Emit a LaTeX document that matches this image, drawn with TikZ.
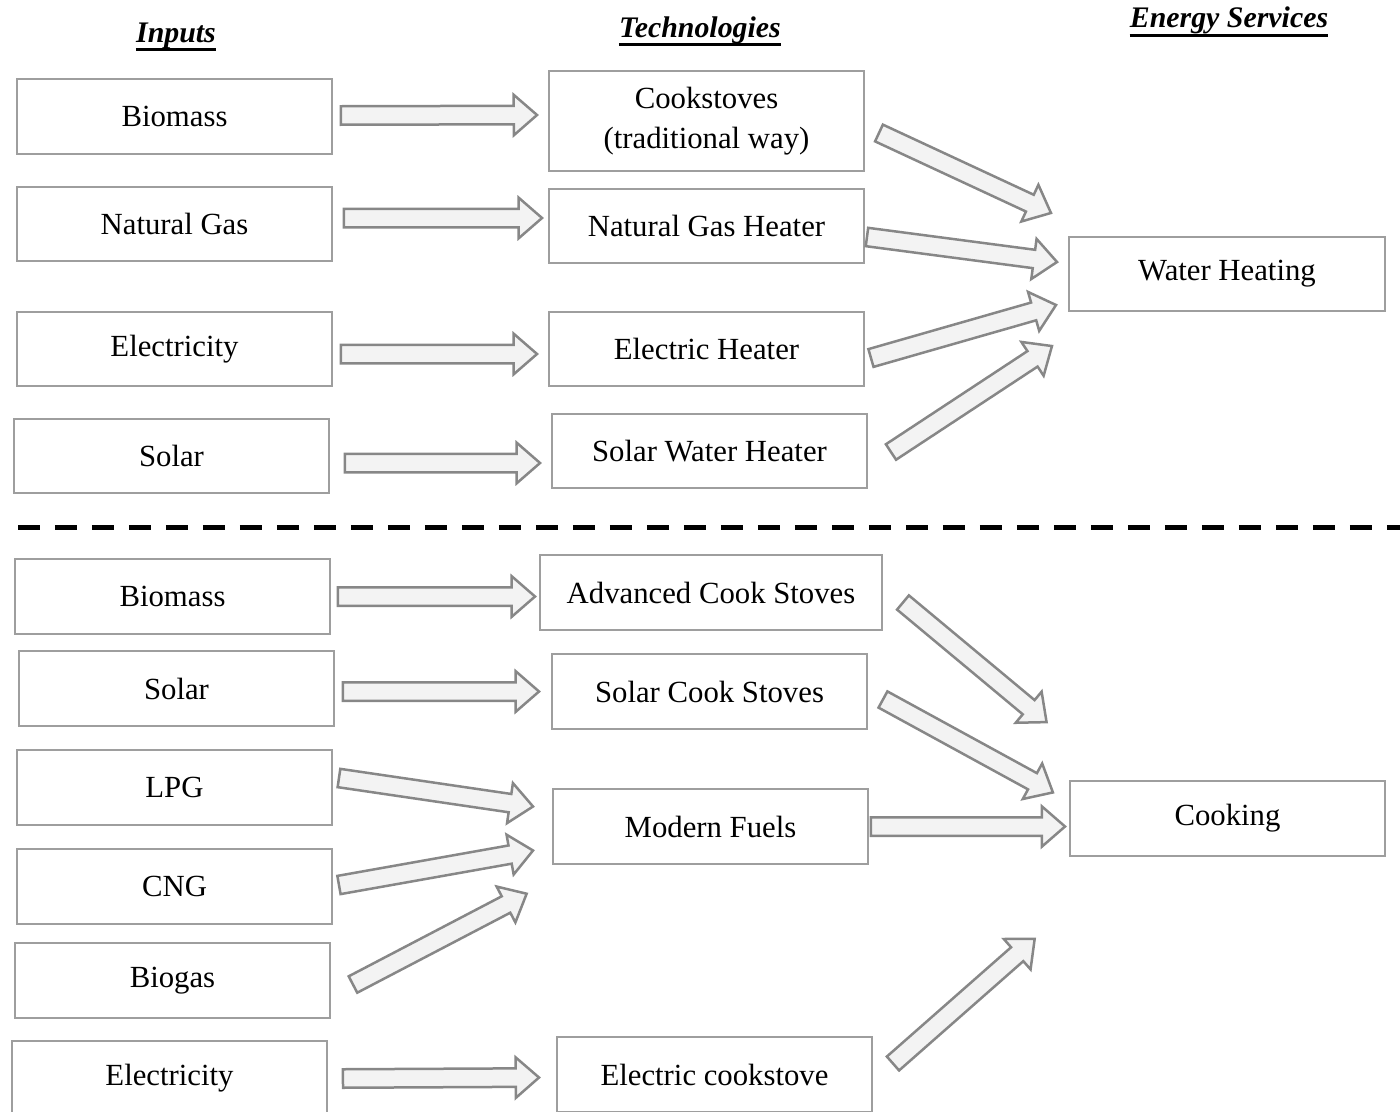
\documentclass[tikz,border=0pt]{standalone}
\usepackage{fontspec}
\setmainfont{Liberation Serif}
\usepackage{tikz}
\usetikzlibrary{shapes.arrows}
\usetikzlibrary{calc}
\usetikzlibrary{positioning}
\definecolor{boxgray}{RGB}{158,158,158}
\definecolor{arrgray}{RGB}{135,135,135}
\definecolor{arrfill}{RGB}{243,243,243}
\newcommand{\fatarrow}[2]{\path let \p1=#1, \p2=#2, \n1={atan2(\y2-\y1,\x2-\x1)}, \n2={veclen(\x2-\x1,\y2-\y1)} in (\p1) node[fatarrow, anchor=tail, minimum height=\n2, rotate=\n1] {};}

\begin{document}
\begin{tikzpicture}[x=0.02cm,y=-0.02cm,
  box/.style={draw=boxgray, line width=0.04cm, minimum width=6.3cm, minimum height=1.5cm, inner sep=0, align=center, font=\fontsize{17.5}{23}\selectfont},
  head/.style={anchor=base, inner sep=0, font=\fontsize{17}{20}\selectfont\bfseries\itshape},
  uline/.style={line width=0.06cm},
  fatarrow/.style={single arrow, draw=arrgray, fill=arrfill, line width=0.05cm, inner xsep=0, inner ysep=0.16cm, outer sep=0, single arrow head extend=0.22cm, single arrow tip angle=82}]
\clip (0,0) rectangle (1400,1112);

% headings
\node (hin) [head] at (176,42) {Inputs};
\node (htech) [head] at (700,37) {Technologies};
\node (hserv) [head] at (1229,28) {Energy Services};
\draw[uline] ([yshift=-0.16cm]hin.base west) -- ([yshift=-0.16cm]hin.base east);
\draw[uline] ([yshift=-0.16cm]htech.base west) -- ([yshift=-0.16cm]htech.base east);
\draw[uline] ([yshift=-0.16cm]hserv.base west) -- ([yshift=-0.16cm]hserv.base east);

% water heating
\node (in1) [box] at (174.5,116.5) {Biomass};
\node (in2) [box] at (174.5,224) {Natural Gas};
\node (in3) [box] at (174.5,349) {Electricity};
\node (in4) [box] at (171.5,456) {Solar};
\node (t1) [box, minimum height=2cm] at (706.5,121) {Cookstoves\\(traditional way)};
\node (t2) [box] at (706.5,226) {Natural Gas Heater};
\node (t3) [box] at (706.5,349) {Electric Heater};
\node (t4) [box] at (709.5,451) {Solar Water Heater};
\node (wh) [box, minimum width=6.32cm] at (1227,274) {Water Heating};

\fatarrow{($(in1.east)+(8,-1)$)}{($(t1.west)+(-11,-6)$)}
\fatarrow{($(in2.east)+(11,-6)$)}{($(t2.west)+(-6,-8)$)}
\fatarrow{($(in3.east)+(8,5)$)}{($(t3.west)+(-11,5)$)}
\fatarrow{($(in4.east)+(15,7)$)}{($(t4.west)+(-11,12)$)}
\fatarrow{($(t1.east)+(14,12)$)}{($(wh.west)+(-17,-61)$)}
\fatarrow{($(t2.east)+(2,11)$)}{($(wh.west)+(-11,-12)$)}
\fatarrow{($(t3.east)+(6,9)$)}{($(wh.west)+(-12,31)$)}
\fatarrow{($(t4.east)+(23,1)$)}{($(wh.west)+(-16,72)$)}

\draw[line width=0.1cm, dash pattern=on 0.44cm off 0.3cm] (18,527) -- (1400,527);

% cooking
\node (b1) [box] at (172.5,596.5) {Biomass};
\node (b2) [box] at (176.5,688.5) {Solar};
\node (b3) [box] at (174.5,787) {LPG};
\node (b4) [box] at (174.5,886) {CNG};
\node (b5) [box] at (172.5,980.5) {Biogas};
\node (b6) [box] at (169.5,1078.5) {Electricity};
\node (c1) [box, minimum width=6.84cm] at (711,592.5) {Advanced Cook Stoves};
\node (c2) [box] at (709.5,691.5) {Solar Cook Stoves};
\node (c3) [box] at (710.5,826.5) {Modern Fuels};
\node (c4) [box] at (714.5,1074.5) {Electric cookstove};
\node (ck) [box] at (1227.5,818.5) {Cooking};

\fatarrow{($(b1.east)+(7,0)$)}{($(c1.west)+(-4,4)$)}
\fatarrow{($(b2.east)+(8,3)$)}{($(c2.west)+(-12,0)$)}
\fatarrow{($(b3.east)+(6,-9)$)}{($(c3.west)+(-19,-20)$)}
\fatarrow{($(b4.east)+(6,-1)$)}{($(c3.west)+(-19,24)$)}
\fatarrow{($(b5.east)+(22,4)$)}{($(c3.west)+(-25,67)$)}
\fatarrow{($(b6.east)+(15,0)$)}{($(c4.west)+(-17,3)$)}
\fatarrow{($(c1.east)+(20,10)$)}{($(ck.west)+(-22,-96)$)}
\fatarrow{($(c2.east)+(15,8)$)}{($(ck.west)+(-16,-26)$)}
\fatarrow{($(c3.east)+(2,0)$)}{($(ck.west)+(-4,8)$)}
\fatarrow{($(c4.east)+(20,-11)$)}{($(ck.west)+(-34,120)$)}
\end{tikzpicture}
\end{document}
